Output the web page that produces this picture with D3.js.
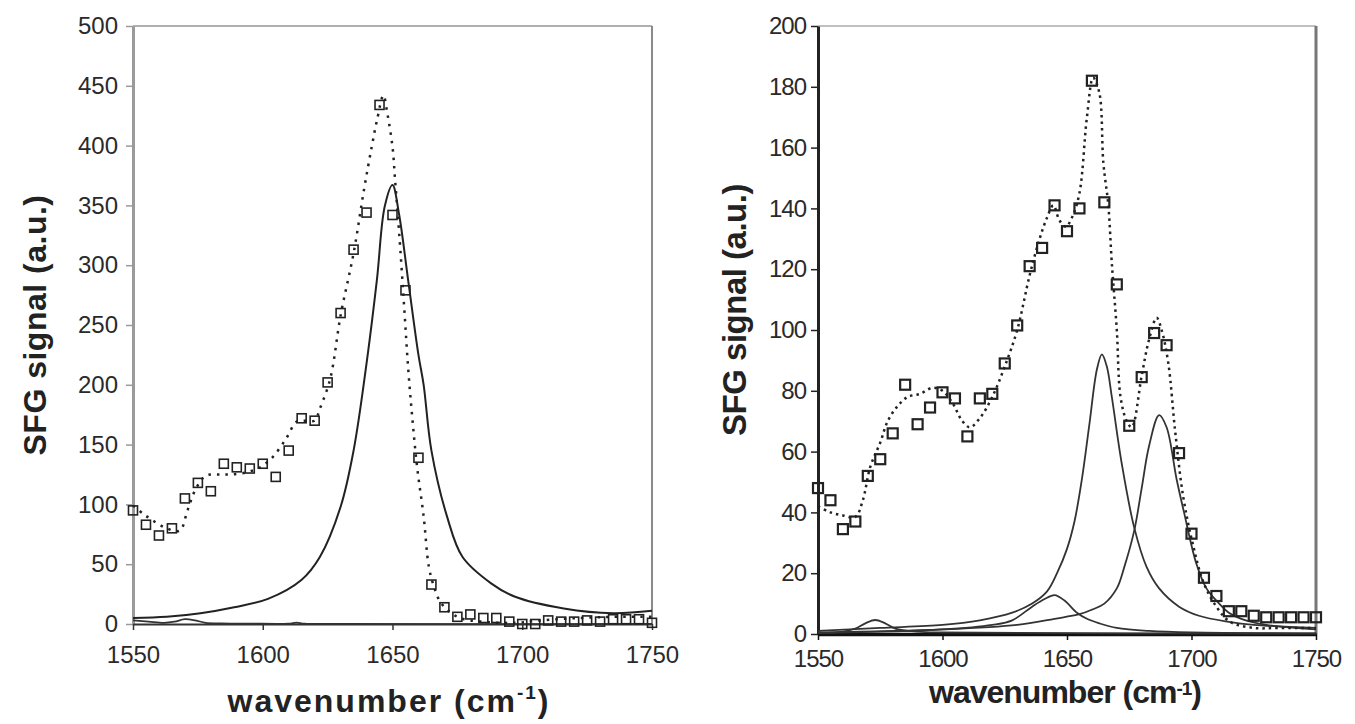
<!DOCTYPE html>
<html>
<head>
<meta charset="utf-8">
<script src="https://cdn.jsdelivr.net/npm/d3@7"></script>
<style>
  body { margin: 0; background: #fff; }
  svg text { font-family: "Liberation Sans", Arial, sans-serif; }
</style>
</head>
<body>
<script>
// ---------- data ----------
// left panel: measured points (squares)
var leftWave = [1550,1555,1560,1565,1570,1575,1580,1585,1590,1595,1600,1605,1610,1615,1620,1625,1630,1635,1640,1645,1650,1655,1660,1665,1670,1675,1680,1685,1690,1695,1700,1705,1710,1715,1720,1725,1730,1735,1740,1745,1750];
var leftSignal = [95,83,74,80,105,118,111,134,131,130,134,123,145,172,170,202,260,313,344,434,342,279,139,33,14,6,8,5,5,2,0,0,3,2,2,3,2,4,4,4,1];

// left panel: overall fit (dotted)
var leftFitX = [1550,1554,1558,1563,1568,1571,1574,1578,1583,1588,1594,1599,1604,1609,1613,1616,1620,1622,1626,1630,1635,1639,1642,1644,1646.5,1648,1650,1651,1652.5,1654.5,1656,1657.6,1659.5,1662,1664,1666,1668,1671,1676,1684,1697,1707,1722,1735,1750];
var leftFitY = [99,92,86,80,78,95,112,124,125,125,127,131,140,155,169,170,170,180,205,258,310,363,399,421,442,427,399,371,329,265,215,173,131,90,48,31,20,12,5,2,1,3,5,6,6];

// left panel: resolved peak (solid)
var leftPeakX = [1550,1563,1576,1589,1602,1615,1622,1630,1635,1640,1644,1647,1650,1652.5,1656,1660,1662,1665,1671,1677,1688,1697,1716,1735,1750];
var leftPeakY = [5,6,9,14,21,37,56,98,145,218,288,349,367,343,288,225,200,145,90,56,34,23,13,9,11];

// left panel: weak component near zero (solid)
var leftMinorX = [1550,1556,1562,1566,1570,1574,1578,1584,1595,1610,1613,1616,1630,1750];
var leftMinorY = [3,2,1,2,4,3,1,0.5,0.3,0.3,1.2,0.3,0,0];

// right panel: measured points (squares)
var rightWave = [1550,1555,1560,1565,1570,1575,1580,1585,1590,1595,1600,1605,1610,1615,1620,1625,1630,1635,1640,1645,1650,1655,1660,1665,1670,1675,1680,1685,1690,1695,1700,1705,1710,1715,1720,1725,1730,1735,1740,1745,1750];
var rightSignal = [48,44,34.5,37,52,57.5,66,82,69,74.5,79.5,77.5,65,77.5,79,89,101.5,121,127,141,132.5,140,182,142,115,68.5,84.5,99,95,59.5,33,18.5,12.5,7.5,7.5,6,5.5,5.5,5.5,5.5,5.5];

// right panel: overall fit (dotted)
var rightFitX = [1550,1555,1560,1565,1568,1571,1575,1578,1582,1586,1591,1596,1600,1604,1608,1611,1615,1620,1625,1630,1635,1639,1642,1644.5,1647,1649.5,1652,1655,1658,1660.5,1663,1664.6,1666.6,1668,1670,1671.5,1674,1676,1680,1683,1686,1688,1690.7,1693.4,1696.7,1700.7,1704.8,1710,1715.5,1725,1735,1750];
var rightFitY = [42,40,39,38.5,44,55,63,70,75,78,79,81,80,76,70,68,71,78,88,100,118,130,137,141,136,134,137,145,170,183,178,155,141,122,100,78,70,68,85,97,104,100,89,67,45,29,17,9,4,2,2,2];

// right panel: resolved peaks (solid)
var peakAX = [1550,1575,1600,1615,1628,1636,1642,1646,1650,1653,1656,1659,1662,1664,1666,1668,1672,1677,1682,1687,1695,1703,1715,1725,1750];
var peakAY = [1,2,3,4.5,7,10,14,20,28,37,51,69,87,92,88,78,56,35,22,15,9,6,4,3,2];
var peakBX = [1550,1600,1630,1645,1655,1660,1665,1670,1673,1677,1680,1683,1687,1690,1694,1697,1702,1706,1710,1715,1720,1730,1750];
var peakBY = [0.5,1.5,3,5,6.5,8,10,15,22,34,48,62,72,68,51,40,23,15,11,7,5,3,1.5];
var peakCX = [1550,1600,1620,1628,1636,1641,1645,1649,1654,1658,1663,1670,1683,1700,1750];
var peakCY = [0.3,1.5,3,4.5,9,11.5,12.8,11,7,5,3.5,2,1,0.5,0.2];
var peakDX = [1550,1560,1565,1569,1573,1577,1581,1590,1600,1750];
var peakDY = [0.3,0.8,1.8,3.5,4.6,3.5,1.8,0.8,0.5,0.1];

// tick labels
var xTicks = [1550,1600,1650,1700,1750];
var leftYTicks = [0,50,100,150,200,250,300,350,400,450,500];
var rightYTicks = [0,20,40,60,80,100,120,140,160,180,200];

function zip(xs, ys) {
  return xs.map(function(x, i) { return { x: x, y: ys[i] }; });
}

var svg = d3.select("body").append("svg")
  .attr("width", 1355)
  .attr("height", 724);

// draws one panel: frame, axes, titles
function drawPanel(p) {
  var x = d3.scaleLinear().domain([1550, 1750]).range([p.left, p.right]);
  var y = d3.scaleLinear().domain([0, p.yMax]).range([p.bottom, p.top]);
  var g = svg.append("g");

  // top and right frame
  g.append("line")
    .attr("x1", p.left).attr("x2", p.right)
    .attr("y1", p.top).attr("y2", p.top)
    .attr("stroke", p.topColor).attr("stroke-width", 2);
  g.append("line")
    .attr("x1", p.right).attr("x2", p.right)
    .attr("y1", p.top).attr("y2", p.bottom)
    .attr("stroke", p.rightColor).attr("stroke-width", p.rightWidth);

  var yAxis = g.append("g")
    .attr("transform", "translate(" + p.left + ",0)")
    .call(d3.axisLeft(y).tickValues(p.yTicks).tickFormat(d3.format("d"))
      .tickSize(p.yTickSize).tickPadding(p.yPad).tickSizeOuter(0));
  yAxis.select(".domain").attr("stroke", p.yAxisColor).attr("stroke-width", p.yAxisWidth);
  yAxis.selectAll(".tick line").attr("stroke", p.yAxisColor).attr("stroke-width", 1.5);
  yAxis.selectAll(".tick text")
    .attr("fill", "#2a2a2a").style("font-size", "24px")
    .style("letter-spacing", p.tickSpacing);

  var xAxis = g.append("g")
    .attr("transform", "translate(0," + p.bottom + ")")
    .call(d3.axisBottom(x).tickValues(xTicks).tickFormat(d3.format("d"))
      .tickSize(6).tickPadding(p.xPad).tickSizeOuter(0));
  xAxis.select(".domain").attr("stroke", p.xAxisColor).attr("stroke-width", p.xAxisWidth);
  xAxis.selectAll(".tick line").attr("stroke", p.xAxisColor).attr("stroke-width", 1.5);
  xAxis.selectAll(".tick text")
    .attr("fill", "#2a2a2a").style("font-size", "24px")
    .style("letter-spacing", p.tickSpacing);

  // y title
  g.append("text")
    .attr("transform", "translate(" + p.yTitleX + "," + p.yTitleY + ") rotate(-90)")
    .attr("text-anchor", "middle")
    .attr("fill", "#222")
    .style("font-size", p.yTitleSize + "px")
    .style("font-weight", "bold")
    .style("letter-spacing", p.yTitleSpacing)
    .text("SFG signal (a.u.)");

  // x title with superscript
  var xt = g.append("text")
    .attr("x", p.xTitleX).attr("y", p.xTitleY)
    .attr("text-anchor", "middle")
    .attr("fill", "#222")
    .style("font-size", p.xTitleSize + "px")
    .style("font-weight", "bold")
    .style("letter-spacing", p.xTitleSpacing);
  xt.append("tspan").text("wavenumber (cm");
  xt.append("tspan").attr("dy", -p.supShift).style("font-size", "19px").text("-1");
  xt.append("tspan").attr("dy", p.supShift).text(")");

  return { g: g, x: x, y: y };
}

function addLine(panel, pts, color, width, dash) {
  var line = d3.line()
    .x(function(d) { return panel.x(d.x); })
    .y(function(d) { return panel.y(d.y); })
    .curve(d3.curveCatmullRom.alpha(0.5));
  panel.g.append("path")
    .datum(pts)
    .attr("d", line)
    .attr("fill", "none")
    .attr("stroke", color)
    .attr("stroke-width", width)
    .attr("stroke-dasharray", dash || null);
}

function addSquares(panel, pts, size, width) {
  panel.g.selectAll(null)
    .data(pts)
    .enter()
    .append("rect")
    .attr("x", function(d) { return panel.x(d.x) - size / 2; })
    .attr("y", function(d) { return panel.y(d.y) - size / 2; })
    .attr("width", size)
    .attr("height", size)
    .attr("fill", "none")
    .attr("stroke", "#222")
    .attr("stroke-width", width);
}

// ---------- left panel ----------
var leftPanel = drawPanel({
  left: 133, right: 652, top: 26, bottom: 624, yMax: 500, yTicks: leftYTicks,
  topColor: "#b0b0b0", rightColor: "#8a8a8a", rightWidth: 2,
  yAxisColor: "#9a9a9a", yAxisWidth: 3, yTickSize: 7, yPad: 8,
  xAxisColor: "#333", xAxisWidth: 2, xPad: 16, tickSpacing: "0px",
  yTitleX: 46, yTitleY: 325, yTitleSize: 32, yTitleSpacing: "0.5px",
  xTitleX: 389, xTitleY: 712, xTitleSize: 32, xTitleSpacing: "2px", supShift: 13
});
addLine(leftPanel, zip(leftMinorX, leftMinorY), "#333", 1.8);
addLine(leftPanel, zip(leftPeakX, leftPeakY), "#222", 2);
addLine(leftPanel, zip(leftFitX, leftFitY), "#222", 2.5, "2.5,6");
addSquares(leftPanel, zip(leftWave, leftSignal), 9, 1.6);

// ---------- right panel ----------
var rightPanel = drawPanel({
  left: 818, right: 1316, top: 26, bottom: 634, yMax: 200, yTicks: rightYTicks,
  topColor: "#c0c0c0", rightColor: "#777", rightWidth: 3,
  yAxisColor: "#222", yAxisWidth: 3, yTickSize: 7, yPad: 5,
  xAxisColor: "#111", xAxisWidth: 3.5, xPad: 10, tickSpacing: "-1px",
  yTitleX: 746, yTitleY: 310, yTitleSize: 33, yTitleSpacing: "-0.5px",
  xTitleX: 1065, xTitleY: 703, xTitleSize: 32, xTitleSpacing: "-1px", supShift: 8
});
addLine(rightPanel, zip(peakDX, peakDY), "#333", 1.8);
addLine(rightPanel, zip(peakCX, peakCY), "#333", 1.8);
addLine(rightPanel, zip(peakBX, peakBY), "#333", 1.8);
addLine(rightPanel, zip(peakAX, peakAY), "#333", 1.8);
addLine(rightPanel, zip(rightFitX, rightFitY), "#222", 2.5, "2.5,4");
addSquares(rightPanel, zip(rightWave, rightSignal), 10, 2.2);
</script>
</body>
</html>
